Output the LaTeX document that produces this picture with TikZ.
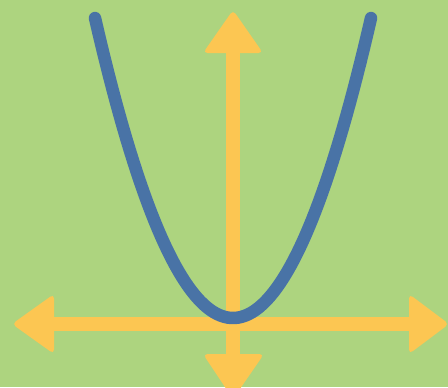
\documentclass[tikz,border=0pt]{standalone}
\usepackage{xcolor}
\definecolor{bggreen}{HTML}{ADD47F}
\definecolor{axisyel}{HTML}{FCC652}
\definecolor{curveblue}{HTML}{4973A6}

\begin{document}
\begin{tikzpicture}[x=0.02cm, y=-0.02cm]
  \useasboundingbox (0,0) rectangle (448,387);
  \fill[bggreen] (0,0) rectangle (448,387);
  \clip (0,0) rectangle (448,387);
  \coordinate (top) at (233,52);  \coordinate (bot) at (233,355);
  \coordinate (lft) at (53,324);  \coordinate (rgt) at (410,324);
  % axes
  \draw[axisyel, line width=0.29cm] (top) -- (bot);
  \draw[axisyel, line width=0.29cm] (lft) -- (rgt);
  % arrow heads
  \fill[axisyel, rounded corners=0.09cm] (233,10) -- (263,53) -- (203,53) -- cycle;
  \fill[axisyel, rounded corners=0.09cm] (233,399) -- (264,354) -- (203,354) -- cycle;
  \fill[axisyel, rounded corners=0.09cm] (12,324) -- (54,294) -- (54,354) -- cycle;
  \fill[axisyel, rounded corners=0.09cm] (449,324) -- (409,294) -- (409,354) -- cycle;
  % parabola
  \draw[curveblue, line width=0.25cm, line cap=round, domain=95:371, samples=80]
    plot (\x, {318-1.575*((\x-233)/10)^2});
\end{tikzpicture}
\end{document}
